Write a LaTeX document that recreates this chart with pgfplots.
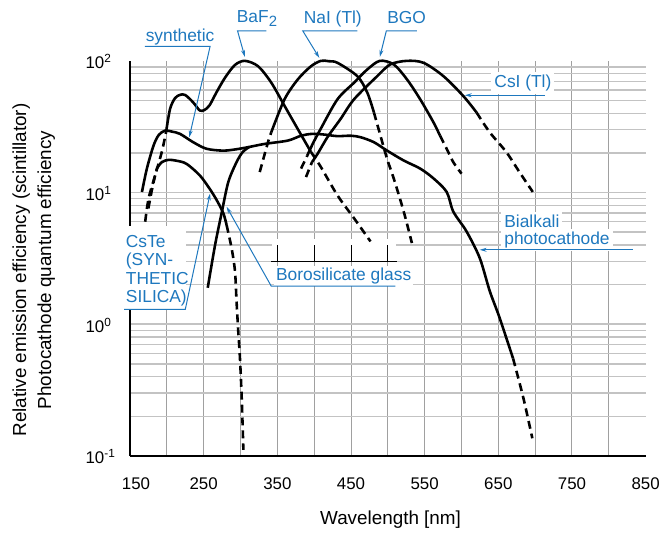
\documentclass[border=0pt]{standalone}
\usepackage{pgfplots}
\pgfplotsset{compat=1.18}
\usepackage{fontspec}
\setmainfont{Liberation Sans}
\usetikzlibrary{arrows.meta}
\definecolor{lblue}{RGB}{30,120,190}
\definecolor{gridv}{RGB}{160,160,160}
\definecolor{gridh}{RGB}{195,195,195}
\newcommand{\lf}{\fontsize{17.5bp}{19bp}\selectfont}
\begin{document}
\begin{tikzpicture}
\begin{axis}[
  width=519.5bp, height=398bp, scale only axis,
  ymode=log,
  xmin=150, xmax=850, ymin=0.1, ymax=100,
  axis x line*=bottom, axis y line*=left,
  axis line style={line width=2bp, black, -},
  xtick={150,250,...,850},
  xticklabels={\hspace{12bp}150,250,350,450,550,650,750,850\hspace{6bp}},
  ytick={0.1,1,10,100},
  yticklabels={10\textsuperscript{-1},10\textsuperscript{0},10\textsuperscript{1},10\textsuperscript{2}},
  minor xtick={200,250,...,800},
  minor ytick={0.2,0.3,0.4,0.5,0.6,0.7,0.8,0.9,1,2,3,4,5,6,7,8,9,10,20,30,40,50,60,70,80,90},
  xminorgrids=true, yminorgrids=true,
  minor grid style={gridh, line width=1.4bp},
  x grid style={gridv, line width=1bp},
  major tick length=0pt, minor tick length=0pt,
  tick label style={font=\fontsize{17bp}{19bp}\selectfont},
  /pgf/number format/assume math mode=true,
  xticklabel style={yshift=-18bp},
  yticklabel style={anchor=west, inner sep=0pt, xshift=-45bp, yshift=-1bp},
  clip=false,
  curve/.style={black, line width=2.6bp, smooth, tension=0.5},
  dcurve/.style={curve, dash pattern=on 8bp off 5bp},
]
% artefact of the original scan
\fill[white] (axis cs:343,3.07) rectangle (axis cs:511,4.4);
\draw[black, line width=1.2bp] (axis cs:342,3) -- (axis cs:512,3);
\draw[black, line width=1bp] (axis cs:350,3) -- (axis cs:350,4);
\draw[black, line width=1bp] (axis cs:400,3) -- (axis cs:400,4);
\draw[black, line width=1bp] (axis cs:450,3) -- (axis cs:450,4);
\draw[black, line width=1bp] (axis cs:500,3) -- (axis cs:500,4);

% BaF2
\addplot[dcurve] coordinates {(170.6,6.0) (175.2,9.0) (184.1,13.5) (193.1,20.3) (198.9,28.7)};
\addplot[curve] coordinates {(198.9,28.7) (204.3,43) (211,52) (218,55.2) (225,55) (235.8,48.3) (244.7,42) (251,42.3) (258,46) (267.2,57.4) (279,74.5) (292.4,93) (305.9,100) (323.9,91) (341.8,68.3) (359.8,45.5) (377.8,30.3) (395.7,20.3)};
\addplot[dcurve] coordinates {(395.7,20.3) (409.2,15.6) (431.7,9.5) (454.2,6.37) (476.5,4.25)};
% NaI(Tl)
\addplot[dcurve] coordinates {(326.1,14.3) (337.3,24.1) (341.8,28.7)};
\addplot[curve] coordinates {(341.8,28.7) (359.8,51.1) (377.8,72.3) (395.7,91) (409.2,100) (420,99.3) (431.7,96.6) (458.6,76.5) (472.1,57.4) (481.1,40.6)};
\addplot[dcurve] coordinates {(481.1,40.6) (490,27) (499,18) (508,12.8) (521.6,7.16) (532.7,4.13)};
% BGO
\addplot[dcurve] coordinates {(382.2,15.2) (390.5,19.0)};
\addplot[curve] coordinates {(390.5,19.0) (398,23.4) (408.8,30.4) (431.7,51.1) (454.2,68.3) (472.1,86) (489.2,100) (508.1,93.8) (526,72.3) (543.9,51.1) (562,34.1) (570.9,27)};
\addplot[dcurve] coordinates {(570.9,27) (579.9,21.5) (588.9,17) (600.1,13.9)};
% CsI(Tl)
\addplot[dcurve] coordinates {(388.9,13.1) (397,17)};
\addplot[curve] coordinates {(397,17) (404.7,19.7) (418.2,26.4) (435.7,36.1) (454.2,51.1) (485.6,76.5) (503.5,94) (526,100) (548.5,96.6) (575.5,76.5) (602.4,54.1) (620.4,40.6)};
\addplot[dcurve] coordinates {(620.4,40.6) (638.3,28.7) (660.8,20.3) (678.7,14.3) (696.8,10.1)};
% Bialkali, synthetic silica window
\addplot[curve] coordinates {(166.2,10.1) (172.9,15.2) (181.9,22.7) (189.1,27.4) (197.6,29.5) (207,29) (217.8,27.9) (235.8,24.1) (253.8,21.5) (276.3,20.8) (294.2,21.3) (310.4,22.1) (332.9,23.4) (364.3,24.8) (382.2,27) (398,27.9) (415,27.5) (431.7,26.8) (449.6,27) (463.1,26.3) (481.1,24.1) (499,20.8) (521.6,17.5) (543.9,15.2) (562,12.8) (579.9,10.1) (588.9,7.16) (606.9,5.06) (624.8,3.18) (638.3,1.79) (651.7,1.12) (670,0.55)};
\addplot[dcurve] coordinates {(670,0.55) (683.7,0.28) (696.2,0.136)};
% Bialkali, borosilicate glass window
\addplot[curve] coordinates {(255.5,1.89) (265.5,4.0) (274.4,7.0) (283.4,12.0) (294.6,17) (303,20.3) (312,22.2)};
% CsTe (synthetic silica)
\addplot[dcurve] coordinates {(174.9,7.57) (179.6,10.4) (183.7,13.2) (186.4,15.2)};
\addplot[curve] coordinates {(186.4,15.2) (193.1,17) (202.2,17.7) (214,17.4) (226.8,16.5) (244.7,13.5) (258,10.7) (267.7,8.75) (276.7,6.96) (281.1,5.67)};
\addplot[dcurve] coordinates {(281.1,5.67) (287.9,3.78) (292.5,2.53) (294.6,1.5) (296.9,0.89) (299.2,0.56) (301.6,0.28) (303.9,0.111)};
\end{axis}

\begin{scope}[shift={(current axis.south west)}, xshift=-131bp, yshift=459.3bp, x=1bp, y=-1bp]
  \path (0,0) rectangle (663,537);
  % axis titles
  \node[rotate=90, align=center, font=\fontsize{19bp}{25bp}\selectfont] at (34,272)
    {Relative emission efficiency (scintillator)\\Photocathode quantum efficiency};
  \node[anchor=base, font=\fontsize{19bp}{22bp}\selectfont] at (393.5,528.5) {Wavelength [nm]};
  % labels
  \tikzset{lead/.style={lblue, line width=1bp, -{Stealth[length=7bp,width=4bp]}}}
  \node[anchor=base west, lblue, font=\lf, inner sep=0pt] at (146.7,41.7) {synthetic};
  \draw[lead] (146,46.7) -- (211.7,46.7) -- (190.7,138.3);
  \node[anchor=base west, lblue, font=\lf, inner sep=0pt] at (238.5,22.7) {BaF\raisebox{-4.5bp}{\fontsize{15bp}{15bp}\selectfont 2}};
  \draw[lead] (268.3,31) -- (239.3,31) -- (246.7,57.3);
  \node[anchor=base west, lblue, font=\lf, inner sep=0pt] at (306,23.3) {NaI (Tl)};
  \draw[lead] (360,31) -- (305,31) -- (321.7,58.3);
  \node[anchor=base west, lblue, font=\lf, inner sep=0pt] at (390,23.3) {BGO};
  \draw[lead] (420,31) -- (389.3,31) -- (382.7,57.3);
  \node[anchor=base west, lblue, font=\lf, fill=white, inner sep=3bp] at (495,88.3) {CsI (Tl)};
  \draw[lead] (549.3,96) -- (468.3,96);
  \node[anchor=base west, lblue, font=\lf, fill=white, inner sep=3bp] at (505,229.3) {Bialkali};
  \node[anchor=base west, lblue, font=\lf, fill=white, inner sep=3bp] at (505,246.7) {photocathode};
  \draw[lead] (637.3,251.7) -- (483.3,251.7);
  \fill[white] (124,228) rectangle (187,311);
  \node[anchor=base west, lblue, font=\lf, inner sep=0pt] at (126.7,249.3) {CsTe};
  \node[anchor=base west, lblue, font=\lf, inner sep=0pt] at (126.7,267.3) {(SYN-};
  \node[anchor=base west, lblue, font=\lf, inner sep=0pt] at (126.7,286.7) {THETIC};
  \node[anchor=base west, lblue, font=\lf, inner sep=0pt] at (126.7,305) {SILICA)};
  \draw[lead] (125,311.7) -- (186.7,311.7) -- (211.7,195);
  \node[anchor=base west, lblue, font=\lf, fill=white, inner sep=2bp] at (276,282.3) {Borosilicate glass};
  \draw[lead] (398.3,288.3) -- (273.3,288.3) -- (228.3,208.3);
\end{scope}
\end{tikzpicture}
\end{document}
